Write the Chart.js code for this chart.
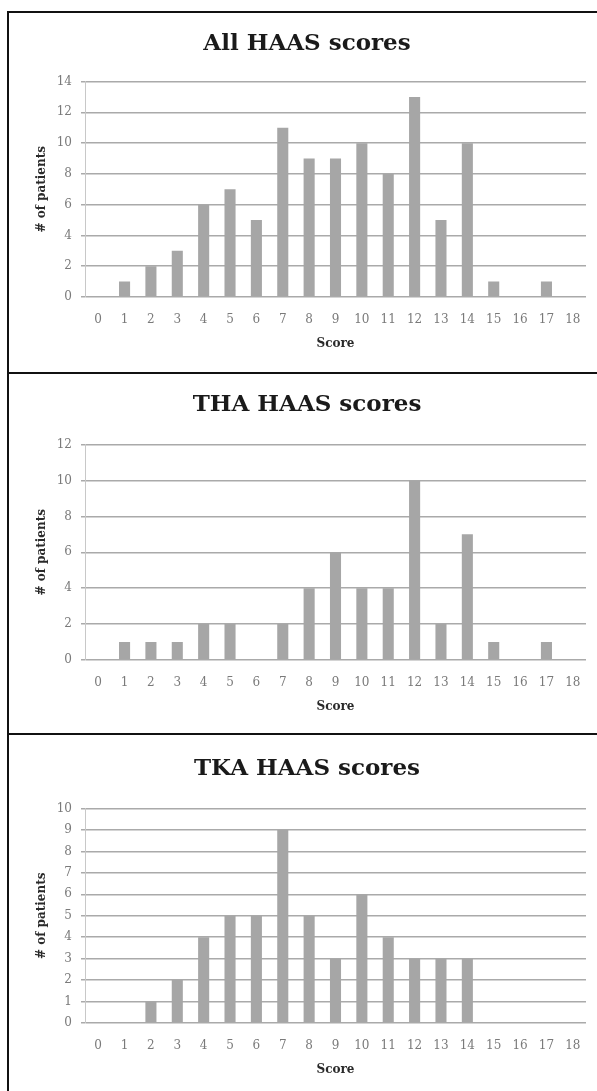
<!DOCTYPE html>
<html>
<head>
<meta charset="utf-8">
<script src="https://cdn.jsdelivr.net/npm/chart.js@4"></script>
<style>
  body { margin: 0; background: #fff; width: 597px; height: 1091px; overflow: hidden; position: relative; }
  .panel { position: absolute; left: 7px; width: 600px; border-left: 2px solid #111; border-top: 2px solid #111; box-sizing: border-box; }
  .panel canvas { position: absolute; left: -9px; top: -2px; }
</style>
</head>
<body>
<div class="panel" style="top:11px;height:363px"><canvas id="c1" width="597" height="363"></canvas></div>
<div class="panel" style="top:372px;height:363px"><canvas id="c2" width="597" height="363"></canvas></div>
<div class="panel" style="top:733px;height:363px"><canvas id="c3" width="597" height="363"></canvas></div>
<script>
const scores = ["0","1","2","3","4","5","6","7","8","9","10","11","12","13","14","15","16","17","18"];
const allCounts = [0,1,2,3,6,7,5,11,9,9,10,8,13,5,10,1,0,1,0];
const thaCounts = [0,1,1,1,2,2,0,2,4,6,4,4,10,2,7,1,0,1,0];
const tkaCounts = [0,0,1,2,4,5,5,9,5,3,6,4,3,3,3,0,0,0,0];
const titles = ["All HAAS scores", "THA HAAS scores", "TKA HAAS scores"];
const yMax = [14, 12, 10];
const ySteps = [2, 2, 1];

const barColor = "#a6a6a6";
const gridColor = "#aaaaaa";

// tTop/tBot = space around the title, xh = height below plot area
function makeChart(id, title, data, max, step, tTop, tBot, xh) {
  new Chart(document.getElementById(id), {
    type: "bar",
    data: {
      labels: scores,
      datasets: [{
        data: data,
        backgroundColor: barColor,
        barPercentage: 0.42,
        categoryPercentage: 1.0,
      }],
    },
    options: {
      responsive: false,
      animation: false,
      layout: { padding: { left: 28, right: 11, top: 0, bottom: 0 } },
      plugins: {
        legend: { display: false },
        tooltip: { enabled: false },
        title: {
          display: true,
          text: title,
          color: "#1a1a1a",
          font: { family: "DejaVu Serif", size: 23, weight: "bold" },
          padding: { top: tTop, bottom: tBot },
        },
      },
      scales: {
        x: {
          grid: { display: false },
          border: { display: false },
          ticks: {
            color: "#7a7a7a",
            font: { family: "DejaVu Serif", size: 12 },
            padding: 8,
            maxRotation: 0,
            autoSkip: false,
          },
          title: {
            display: true,
            text: "Score",
            color: "#2a2a2a",
            font: { family: "DejaVu Serif", size: 12, weight: "bold" },
            padding: { top: 4, bottom: xh - 54 },
          },
          afterFit: (s) => { s.height = xh; },
        },
        y: {
          min: 0,
          max: max,
          grid: { color: gridColor, lineWidth: 1.5, tickLength: 4 },
          border: { display: true, color: "#c8c8c8", width: 1 },
          ticks: {
            stepSize: step,
            color: "#7a7a7a",
            font: { family: "DejaVu Serif", size: 12 },
            padding: 9,
          },
          title: {
            display: true,
            text: "# of patients",
            color: "#2a2a2a",
            font: { family: "DejaVu Serif", size: 12, weight: "bold" },
            padding: { top: 7, bottom: 4 },
          },
          afterFit: (s) => { s.width = 57; },
        },
      },
    },
  });
}

makeChart("c1", titles[0], allCounts, yMax[0], ySteps[0], 19, 24, 77);
makeChart("c2", titles[1], thaCounts, yMax[1], ySteps[1], 19, 26, 75);
makeChart("c3", titles[2], tkaCounts, yMax[2], ySteps[2], 22, 26, 73);
</script>
</body>
</html>
